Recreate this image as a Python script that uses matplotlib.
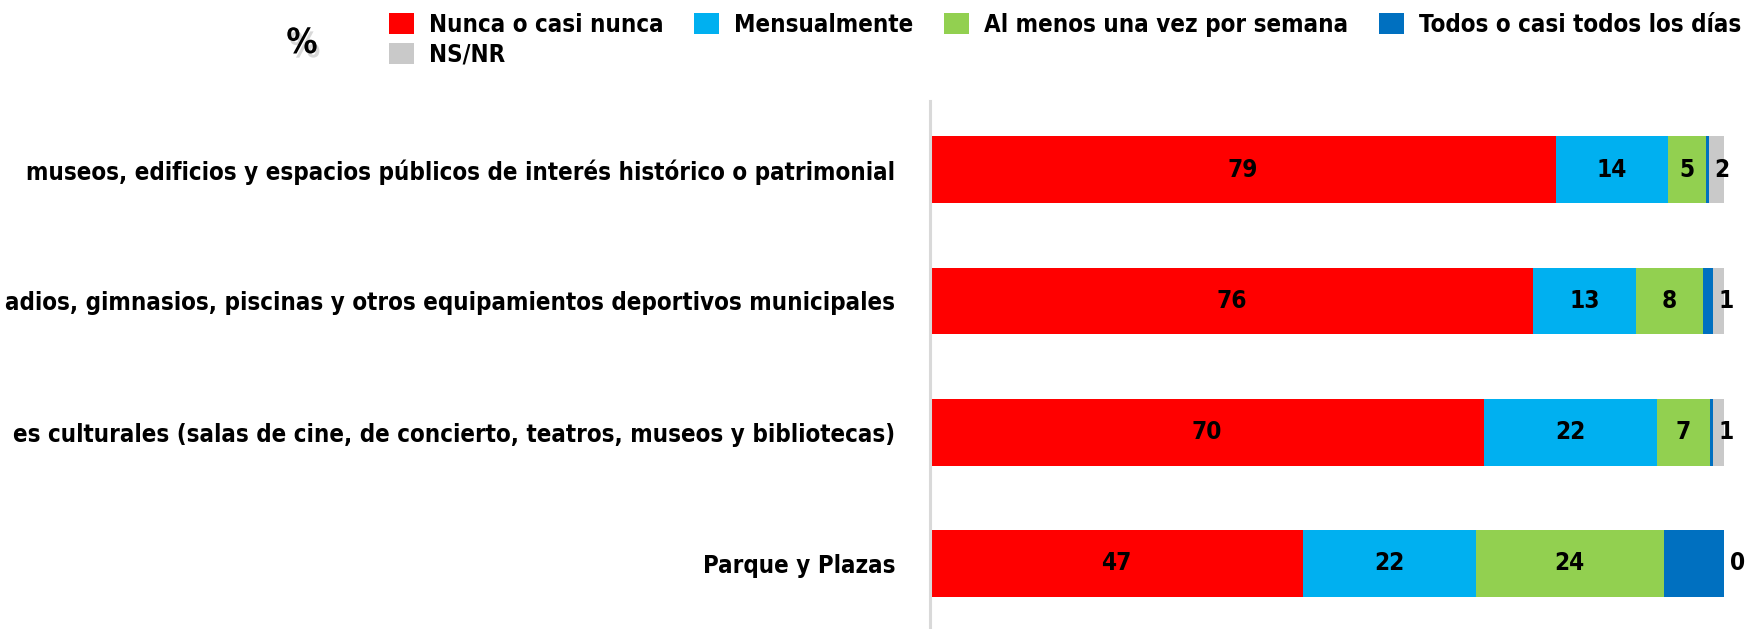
import matplotlib.pyplot as plt
from matplotlib import patheffects
from matplotlib.patches import Patch

plt.rcParams['font.family'] = ['DejaVu Sans']
plt.rcParams['font.stretch'] = 'condensed'
plt.rcParams['font.weight'] = 'bold'

##################################### Data #####################################

categorias = ['museos, edificios y espacios públicos de interés histórico o patrimonial',
              'adios, gimnasios, piscinas y otros equipamientos deportivos municipales',
              'es culturales (salas de cine, de concierto, teatros, museos y bibliotecas)',
              'Parque y Plazas']

series = ['Nunca o casi nunca', 'Mensualmente', 'Al menos una vez por semana',
          'Todos o casi todos los días', 'NS/NR']

nunca = [78.8, 76.0, 69.8, 47.0]
mensual = [14.1, 12.9, 21.7, 21.7]
semanal = [4.8, 8.4, 6.7, 23.7]
diario = [0.4, 1.3, 0.4, 7.6]
nsnr = [1.9, 1.4, 1.4, 0.0]

colores = ['#FF0000', '#00B0F0', '#92D050', '#0070C0', '#C9C9C9']

valores = [nunca, mensual, semanal, diario, nsnr]

##################################### Plot #####################################

fig = plt.figure(figsize = (17.55, 6.29), dpi = 100)
ax = fig.add_axes([930 / 1755, 0, 1 - 930 / 1755, 1 - 101 / 629])

ypos = list(range(len(categorias)))
left = [0.0] * len(categorias)

for si, vals in enumerate(valores):

    bars = ax.barh(ypos, vals, left = left, height = 0.51, color = colores[si], edgecolor = 'none')

    for i, b in enumerate(bars):

        v = vals[i]

        if si == 4:

            ax.annotate(str(int(round(v))), (left[i], ypos[i]), xytext = (4, 0), textcoords = 'offset points',
                        ha = 'left', va = 'center', fontsize = 17.5, color = 'black', annotation_clip = False)

        elif si != 3 and v >= 3:

            ax.text(left[i] + v / 2, ypos[i], str(int(round(v))), ha = 'center', va = 'center',
                    fontsize = 17.5, color = 'black')

    left = [l + v for l, v in zip(left, vals)]

ax.set_xlim(0, 103.9)
ax.set_ylim(3.5, -0.524)
ax.set_xticks([])
ax.set_yticks(ypos)
ax.set_yticklabels(categorias, fontsize = 17.3)
ax.tick_params(axis = 'y', length = 0, pad = 25)

for s in ['top', 'right', 'bottom']:
    ax.spines[s].set_visible(False)

ax.spines['left'].set_color('#D9D9D9')
ax.spines['left'].set_linewidth(2.2)

# matplotlib fills legend columns first, so reorder to get row-wise layout
orden = [0, 4, 1, 2, 3]
handles = [Patch(facecolor = colores[k], edgecolor = 'none') for k in orden]
leg = fig.legend(handles, [series[k] for k in orden], loc = 'upper left', bbox_to_anchor = (379 / 1755, 1 - 3 / 629), ncol = 4,
                 frameon = False, fontsize = 17.3, handlelength = 1.04, handleheight = 0.96, handletextpad = 0.63,
                 columnspacing = 1.28, labelspacing = 0.25, borderaxespad = 0)

fig.text(302 / 1755, 1 - 43 / 629, '%', ha = 'center', va = 'center', fontsize = 25,
         path_effects = [patheffects.withSimplePatchShadow(offset = (2, -3), shadow_rgbFace = 'gray', alpha = 0.3)])

fig.savefig('out.png', dpi = 100)
